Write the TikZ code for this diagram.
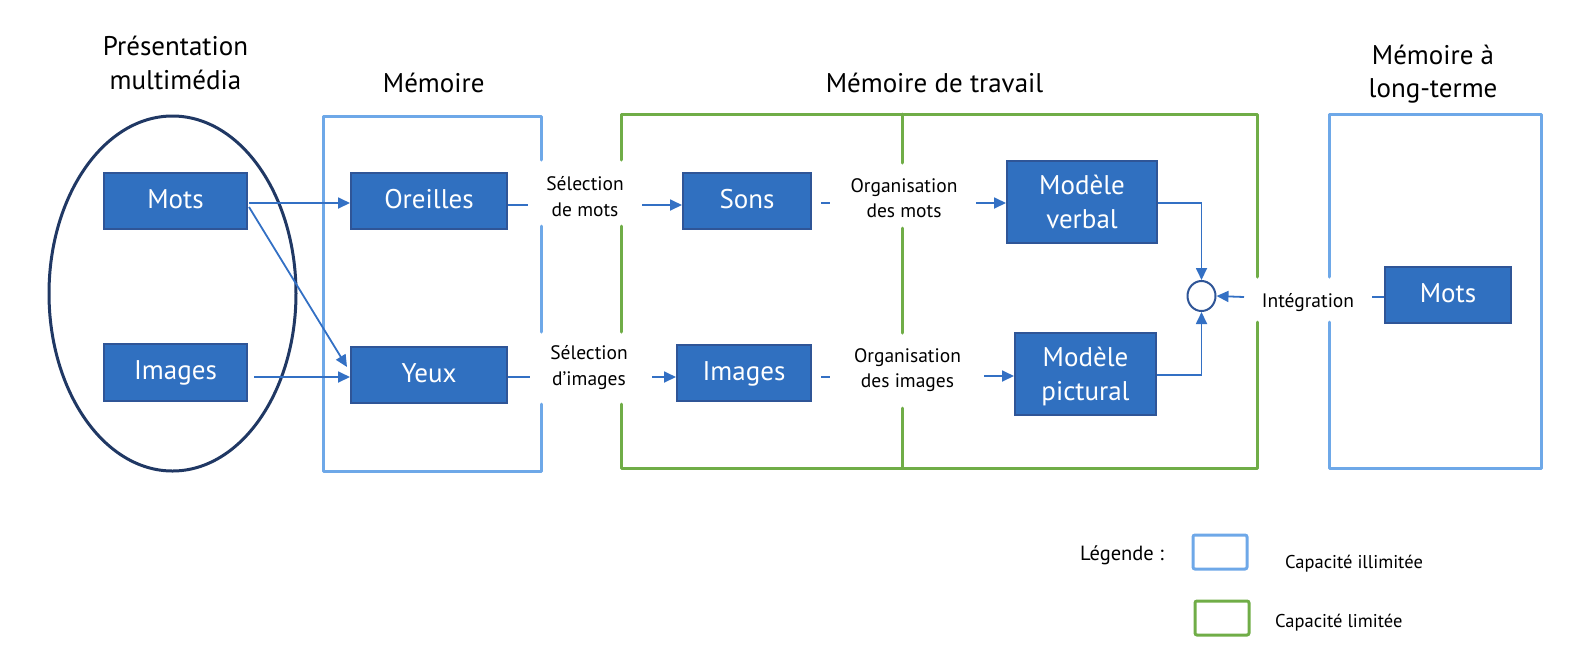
\documentclass[tikz,border=0pt]{standalone}
\usepackage{fontspec}
\setmainfont{PT Sans}
\usetikzlibrary{arrows.meta,calc,shapes.geometric}
\definecolor{boxfill}{HTML}{3070C0}
\definecolor{boxline}{HTML}{2F5597}
\definecolor{connc}{HTML}{3370C4}
\definecolor{lblue}{HTML}{6EA8E8}
\definecolor{fgreen}{HTML}{70AD47}
\definecolor{navy}{HTML}{203864}
\begin{document}
\begin{tikzpicture}[x=1pt,y=-1pt,
  blk/.style={draw=boxline, fill=boxfill, line width=2pt, text=white, font=\fontsize{27}{34}\selectfont, align=center, inner sep=0pt},
  blkone/.style={blk, text height=19pt, text depth=5pt},
  conn/.style={draw=connc, line width=1.8pt},
  arr/.style={conn, -{Triangle[length=12pt,width=11pt]}},
  lbl/.style={font=\fontsize{19.5}{24}\selectfont, inner sep=0pt, anchor=base},
  ttl/.style={font=\fontsize{27}{33}\selectfont, inner sep=0pt, anchor=base},
  frameB/.style={draw=lblue, line width=3pt, line join=round, line cap=round},
  frameG/.style={draw=fgreen, line width=3pt, line join=round, line cap=round},
  legbox/.style={line width=3pt, rounded corners=2pt, minimum width=54pt, minimum height=34pt, inner sep=0pt},
  legtxt/.style={font=\fontsize{18.5}{22}\selectfont, inner sep=0pt, anchor=base west}
]
\useasboundingbox (0,0) rectangle (1592,654);

% titles
\node[ttl] (t1a) at (175.5,55) {Présentation};
\node[ttl] (t1b) at (175.5,89) {multimédia};
\node[ttl] (t2) at (433.7,92) {Mémoire};
\node[ttl] (t3) at (934.5,92) {Mémoire de travail};
\node[ttl] (t4a) at (1433,64) {Mémoire à};
\node[ttl] (t4b) at (1433,97) {long-terme};

% frames
\draw[frameB] (541,160) -- (541,116) -- (323,116) -- (323,471) -- (541,471) -- (541,404);
\draw[frameB] (541,332) -- (541,226);
\draw[frameG] (621.5,160) -- (621.5,114) -- (1257.5,114) -- (1257.5,277);
\draw[frameG] (1257.5,322) -- (1257.5,468) -- (621.5,468) -- (621.5,404);
\draw[frameG] (621.5,332) -- (621.5,226);
\draw[frameG] (902,114) -- (902,163);
\draw[frameG] (902,228) -- (902,333);
\draw[frameG] (902,408) -- (902,468);
\draw[frameB] (1329,277) -- (1329,114) -- (1541,114) -- (1541,468) -- (1329,468) -- (1329,322);

% ellipse
\node[draw=navy, line width=3pt, ellipse, minimum width=247pt, minimum height=355pt, inner sep=0pt] (pres) at (172.5,293.5) {};

% boxes
\node[blkone, minimum width=143pt, minimum height=56pt] (motsL) at (175.5,201) {Mots};
\node[blkone, minimum width=143pt, minimum height=57pt] (imagesL) at (175.5,372.5) {Images};
\node[blkone, minimum width=156pt, minimum height=56pt] (oreilles) at (429,201) {Oreilles};
\node[blkone, minimum width=156pt, minimum height=56pt] (yeux) at (429,375) {Yeux};
\node[blkone, minimum width=128pt, minimum height=56pt] (sons) at (747,201) {Sons};
\node[blkone, minimum width=134pt, minimum height=56pt] (imagesM) at (744,373) {Images};
\node[blk, minimum width=150pt, minimum height=82pt] (verbal) at (1082,202) {Modèle\\verbal};
\node[blk, minimum width=141pt, minimum height=82pt] (pictural) at (1085.5,374) {Modèle\\\smash{pictural}};
\node[blkone, minimum width=126pt, minimum height=56pt] (motsR) at (1448,295) {Mots};
\node[draw=boxline, line width=2pt, ellipse, fill=white, minimum width=28pt, minimum height=30pt, inner sep=0pt] (integ) at (1201.5,296) {};

% labels
\node[lbl] (sm1) at (585,190) {Sélection};
\node[lbl] (sm2) at (585,216) {de mots};
\node[lbl] (si1) at (589,359) {Sélection};
\node[lbl] (si2) at (589,385) {d’images};
\node[lbl] (om1) at (904,192) {Organisation};
\node[lbl] (om2) at (904,217) {des mots};
\node[lbl] (oi1) at (907.5,362) {Organisation};
\node[lbl] (oi2) at (907.5,387) {des images};
\node[lbl] (integr) at (1308,307) {Intégration};

% connector points
\coordinate (c1) at (528,205);
\coordinate (c2) at (642,205);
\coordinate (c3a) at (821,203);
\coordinate (c3b) at (830,203);
\coordinate (c4) at (976,203);
\coordinate (d1) at (530,377);
\coordinate (d2) at (652,377);
\coordinate (d3a) at (821,377);
\coordinate (d3b) at (830,377);
\coordinate (d4) at (984,376);
\coordinate (vb) at (1201.5,203);
\coordinate (pc) at (1201.5,375);
\coordinate (i1) at (1244,297);
\coordinate (m1) at (1372,297);

% connectors
\draw[arr] ($(motsL.east)+(1,2)$) -- ($(oreilles.west)+(0,2)$);
\draw[arr] ($(motsL.east)+(1,6)$) -- ($(yeux.west)+(-3,-8)$);
\draw[arr] ($(imagesL.east)+(6,4.5)$) -- ($(yeux.west)+(0,2)$);
\draw[conn] (oreilles.east|-c1) -- (c1);
\draw[arr] (c2) -- (sons.west|-c2);
\draw[conn] (c3a) -- (c3b);
\draw[arr] (c4) -- (verbal.west|-c4);
\draw[conn] (yeux.east|-d1) -- (d1);
\draw[arr] (d2) -- (imagesM.west|-d2);
\draw[conn] (d3a) -- (d3b);
\draw[arr] (d4) -- (pictural.west|-d4);
\draw[arr] (verbal.east|-vb) -- (vb) -- (integ.north);
\draw[arr] (pictural.east|-pc) -- (pc) -- (integ.south);
\draw[arr] (i1) -- (integ.east);
\draw[conn] (m1) -- (motsR.west|-m1);

% legend
\node[font=\fontsize{20.5}{24}\selectfont, inner sep=0pt, anchor=base west] (leg) at (1080,560) {Légende :};
\node[legbox, draw=lblue] (legB) at (1220,552) {};
\node[legbox, draw=fgreen] (legG) at (1222,618) {};
\node[legtxt] (legBt) at (1285,568) {Capacité illimitée};
\node[legtxt] (legGt) at (1275,627) {Capacité limitée};
\end{tikzpicture}
\end{document}
